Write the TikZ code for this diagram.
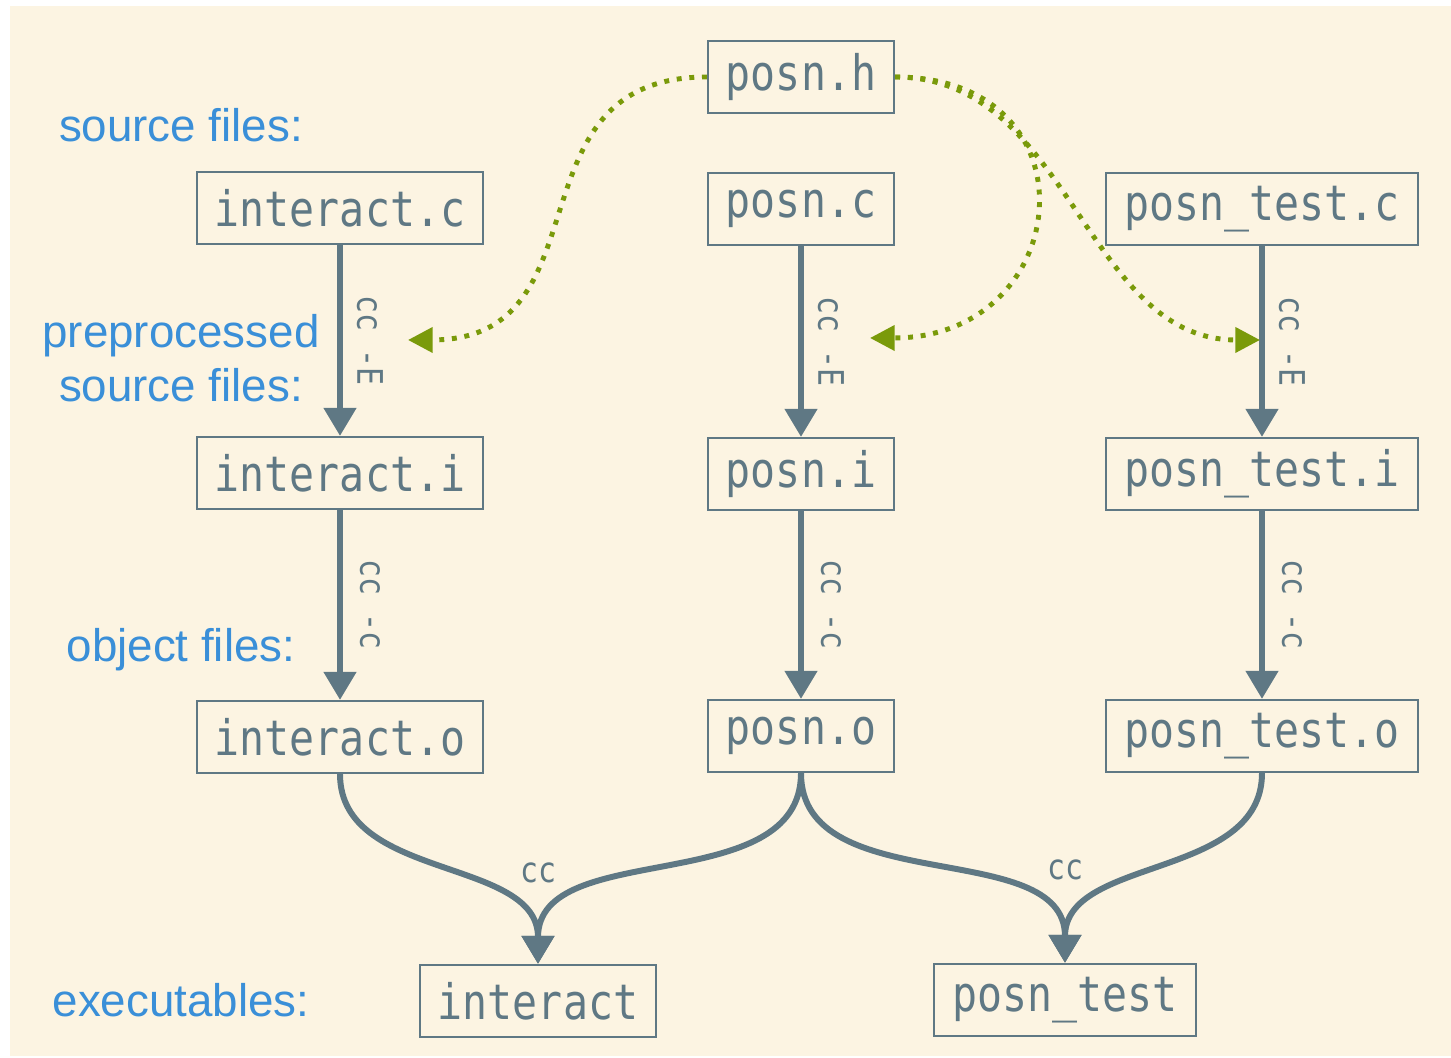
\documentclass[tikz,border=0pt]{standalone}
\usepackage{fontspec}
\setmainfont{Liberation Sans}
\newfontfamily\codefont[FakeStretch=0.85]{DejaVu Sans Mono}
\usetikzlibrary{arrows.meta}
\definecolor{paper}{HTML}{FCF4E2}
\definecolor{slate}{HTML}{5F7884}
\definecolor{stage}{HTML}{3A8FD8}
\definecolor{olive}{HTML}{7A9A0A}
\tikzset{file/.style={draw=slate, line width=0.6pt, text=slate,
  font=\codefont\fontsize{13.9}{16}\selectfont,
  minimum height=0.72cm, inner xsep=0.18cm, inner ysep=0pt}}
\tikzset{stage/.style={text=stage, align=center,
  font=\fontsize{13}{15.5}\selectfont}}
\tikzset{flow/.style={draw=slate, line width=1.7pt,
  -{Triangle[length=8pt,width=9pt]}}}
\tikzset{incl/.style={draw=olive, line width=1.4pt, dash pattern=on 1.4pt off 2.2pt,
  -{Triangle[length=7pt,width=7pt]}}}
\tikzset{cmd/.style={text=slate, font=\codefont\fontsize{10}{12}\selectfont}}

\begin{document}
\begin{tikzpicture}[x=0.01cm, y=0.01cm]
\useasboundingbox (0,0) rectangle (1451,1058);
\fill[paper] (10,2) rectangle (1451,1052);

\node[stage] (lsrc) at (181,933) {source files:};
\node[stage] (lpre) at (181,700) {preprocessed\\source files:};
\node[stage] (lobj) at (181,408) {object files:};
\node[stage] (lexe) at (181,58) {executables:};

\node[file] (posnh) at (801,981) {posn.h};
\node[file] (interactc) at (340,850) {interact.c};
\node[file] (posnc) at (801,849) {posn.c};
\node[file] (testc) at (1262,849) {posn\_test.c};
\node[file] (interacti) at (340,585) {interact.i};
\node[file] (posni) at (801,584) {posn.i};
\node[file] (testi) at (1262,584) {posn\_test.i};
\node[file] (interacto) at (340,321) {interact.o};
\node[file] (posno) at (801,322) {posn.o};
\node[file] (testo) at (1262,322) {posn\_test.o};
\node[file] (interact) at (538,57) {interact};
\node[file] (test) at (1065,58) {posn\_test};

% cc -E and cc -c
\draw[flow] (interactc) -- (interacti) node[midway, xshift=0.3cm, rotate=-90, cmd] {cc -E};
\draw[flow] (posnc) -- (posni) node[midway, xshift=0.3cm, rotate=-90, cmd] {cc -E};
\draw[flow] (testc) -- (testi) node[midway, xshift=0.3cm, rotate=-90, cmd] {cc -E};
\draw[flow] (interacti) -- (interacto) node[midway, xshift=0.3cm, rotate=-90, cmd] {cc -c};
\draw[flow] (posni) -- (posno) node[midway, xshift=0.3cm, rotate=-90, cmd] {cc -c};
\draw[flow] (testi) -- (testo) node[midway, xshift=0.3cm, rotate=-90, cmd] {cc -c};

% linking
\draw[flow] (interacto.south) to[out=-90, in=90] (interact.north);
\draw[flow] (posno.south) to[out=-90, in=90] (interact.north);
\draw[flow] (posno.south) to[out=-90, in=90] (test.north);
\draw[flow] (testo.south) to[out=-90, in=90] (test.north);
\node[cmd] (cc1) at (538,185) {cc};
\node[cmd] (cc2) at (1065,188) {cc};

% header included
\coordinate (h1) at (408,718);
\coordinate (h2) at (870,720);
\coordinate (h3) at (1260,718);
\draw[incl] (posnh.west) to[out=180, in=0, looseness=1.3] (h1);
\draw[incl] (posnh.east) to[out=0, in=0, looseness=2] (h2);
\draw[incl] (posnh.east) to[out=0, in=180] (h3);
\end{tikzpicture}
\end{document}
